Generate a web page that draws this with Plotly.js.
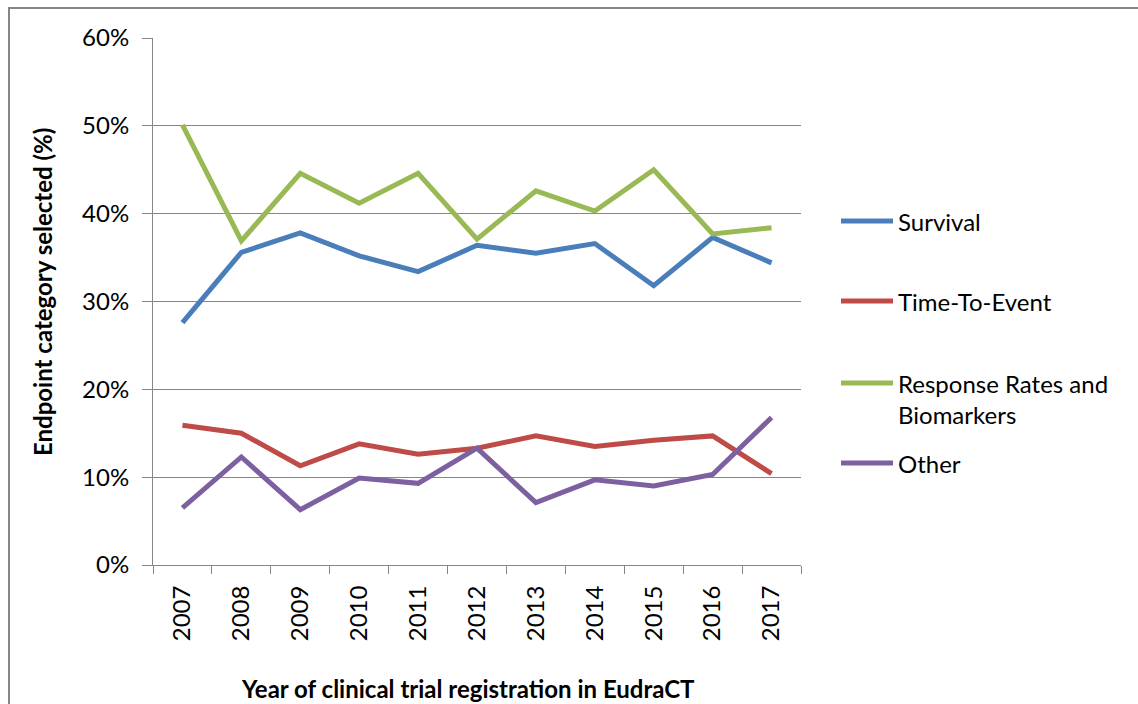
<!DOCTYPE html>
<html>
<head>
<meta charset="utf-8">
<script src="https://cdn.plot.ly/plotly-3.0.1.min.js"></script>
<style>html,body{margin:0;padding:0;background:#fff;}#chart{width:1138px;height:704px;}</style>
</head>
<body>
<div id="chart"></div>
<script>
var years = ['2007','2008','2009','2010','2011','2012','2013','2014','2015','2016','2017'];
var survival = [27.6, 35.6, 37.8, 35.2, 33.4, 36.4, 35.5, 36.6, 31.8, 37.3, 34.4];
var timeToEvent = [15.9, 15.0, 11.3, 13.8, 12.6, 13.3, 14.7, 13.5, 14.2, 14.7, 10.4];
var responseRates = [50.1, 36.9, 44.6, 41.2, 44.6, 37.1, 42.6, 40.3, 45.0, 37.7, 38.4];
var other = [6.5, 12.3, 6.3, 9.9, 9.3, 13.3, 7.1, 9.7, 9.0, 10.3, 16.8];
var seriesNames = ['Survival', 'Time-To-Event', 'Response Rates and<br>Biomarkers', 'Other'];
var seriesColors = ['#4A7EBB', '#BE4B48', '#98B954', '#7D60A0'];
var seriesData = [survival, timeToEvent, responseRates, other];
var xTitle = 'Year of clinical trial registration in EudraCT';
var yTitle = 'Endpoint category selected (%)';

var FONT = 'Lato, "Open Sans", sans-serif';
var traces = seriesData.map(function(d, i){
  return {x: years, y: d.map(function(v){return v/100;}), type: 'scatter', mode: 'lines',
    name: seriesNames[i], line: {color: seriesColors[i], width: 5}, showlegend: false};
});

// manual legend (matches the original's spacing)
var legendY = [221, 301, 383, 463];
var plotTop = 38, plotBottom = 565, plotLeft = 153, plotRight = 801;
function px2x(p){ return (p - plotLeft) / (plotRight - plotLeft); }
function px2y(p){ return (plotBottom - p) / (plotBottom - plotTop); }
var shapes = [];
var annotations = [];
seriesNames.forEach(function(n, i){
  shapes.push({type: 'line', xref: 'paper', yref: 'paper', x0: px2x(841), x1: px2x(893),
    y0: px2y(legendY[i]), y1: px2y(legendY[i]), line: {color: seriesColors[i], width: 5}});
  annotations.push({xref: 'paper', yref: 'paper', x: px2x(896), y: px2y(legendY[i] - 16),
    xanchor: 'left', yanchor: 'top', align: 'left', showarrow: false, text: n,
    font: {family: FONT, size: 24, color: '#000'}});
});
// axis titles (placed as in the original, slightly off-centre)
annotations.push({xref: 'paper', yref: 'paper', x: px2x(468), y: px2y(688), xanchor: 'center', yanchor: 'middle',
  showarrow: false, text: '<b>' + xTitle + '</b>', font: {family: FONT, size: 24, color: '#000'}});
annotations.push({xref: 'paper', yref: 'paper', x: px2x(42), y: px2y(292), xanchor: 'center', yanchor: 'middle',
  textangle: -90, showarrow: false, text: '<b>' + yTitle + '</b>', font: {family: FONT, size: 24, color: '#000'}});
// outer chart border (top and left visible)
shapes.push({type: 'rect', xref: 'paper', yref: 'paper', x0: px2x(9), x1: px2x(1200),
  y0: px2y(760), y1: px2y(8), line: {color: '#868686', width: 2}, layer: 'below'});

var layout = {
  width: 1138, height: 704,
  margin: {l: 153, r: 337, t: 38, b: 139},
  paper_bgcolor: '#fff', plot_bgcolor: '#fff',
  font: {family: FONT, color: '#000'},
  showlegend: false,
  xaxis: {
    type: 'category', range: [-0.5, 10.5], tickangle: -90,
    tickmode: 'array', tickvals: years, ticktext: years,
    ticks: 'outside', ticklen: 8, tickcolor: '#868686', tickson: 'boundaries',
    ticklabelstandoff: 10,
    showline: true, linecolor: '#868686', linewidth: 1, showgrid: false, zeroline: false,
    tickfont: {family: FONT, size: 24, color: '#000'}
  },
  yaxis: {
    range: [0, 0.6], dtick: 0.1, tickformat: '.0%',
    ticks: 'outside', ticklen: 10, tickcolor: '#868686', ticklabelstandoff: 8,
    showline: true, linecolor: '#868686', linewidth: 1,
    showgrid: true, gridcolor: '#868686', gridwidth: 1, zeroline: false,
    tickfont: {family: FONT, size: 24, color: '#000'}
  },
  shapes: shapes,
  annotations: annotations
};
Plotly.newPlot('chart', traces, layout, {displayModeBar: false, staticPlot: true});
</script>
</body>
</html>
